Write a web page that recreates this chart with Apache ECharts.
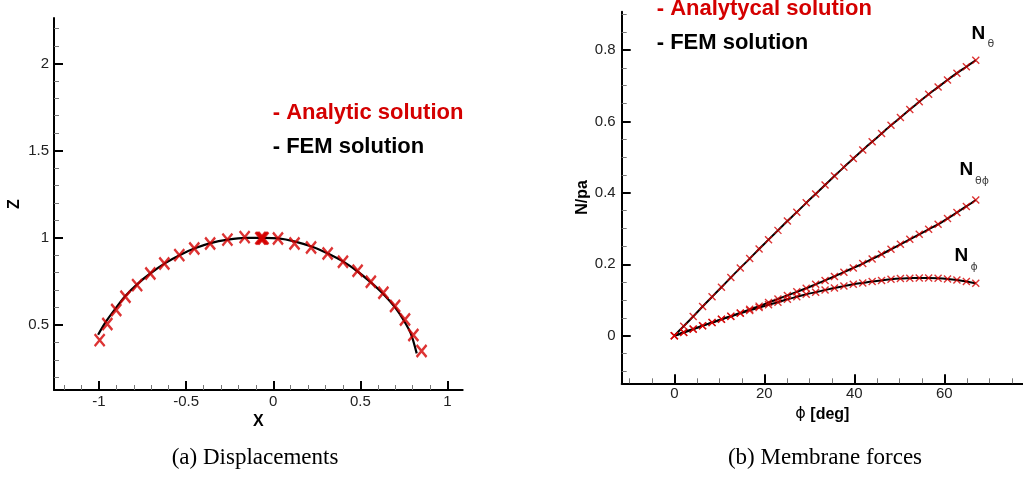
<!DOCTYPE html>
<html><head><meta charset="utf-8">
<script src="https://cdn.jsdelivr.net/npm/echarts@6/dist/echarts.min.js"></script>
<style>html,body{margin:0;padding:0;background:#fff}#c{width:1023px;height:478px}</style>
</head><body><div id="c"></div><script>
// ---- (a) Displacements ----
const dispX = [-0.996,-0.952,-0.901,-0.848,-0.781,-0.705,-0.625,-0.539,-0.453,-0.362,-0.263,-0.164,-0.074,-0.068,-0.062,-0.056,0.027,0.122,0.217,0.312,0.400,0.484,0.560,0.632,0.699,0.756,0.804,0.851];
const dispZ = [0.414,0.506,0.586,0.662,0.729,0.796,0.853,0.901,0.939,0.968,0.990,1.004,0.998,0.998,0.998,0.998,0.996,0.968,0.945,0.910,0.863,0.811,0.748,0.685,0.609,0.532,0.443,0.351];
const femX = [-1.005,-0.960,-0.905,-0.850,-0.780,-0.700,-0.620,-0.535,-0.450,-0.360,-0.260,-0.160,-0.060,0.030,0.120,0.220,0.310,0.400,0.480,0.560,0.630,0.700,0.750,0.790,0.823];
const femZ = [0.445,0.520,0.595,0.665,0.735,0.800,0.855,0.902,0.940,0.970,0.990,1.000,1.000,0.997,0.980,0.950,0.912,0.865,0.810,0.745,0.680,0.600,0.525,0.450,0.338];
const leftXMajor = [-1,-0.5,0,0.5,1];
const leftXMinor = [-1.2,-1.1,-0.9,-0.8,-0.7,-0.6,-0.4,-0.3,-0.2,-0.1,0.1,0.2,0.3,0.4,0.6,0.7,0.8,0.9];
const leftZMajor = [0.5,1,1.5,2];
const leftZMinor = [0.2,0.3,0.4,0.6,0.7,0.8,0.9,1.1,1.2,1.3,1.4,1.6,1.7,1.8,1.9,2.1,2.2];

// ---- (b) Membrane forces ----
const phi = [0,2.09,4.19,6.28,8.38,10.47,12.56,14.66,16.75,18.84,20.94,23.03,25.13,27.22,29.31,31.41,33.5,35.59,37.69,39.78,41.88,43.97,46.06,48.16,50.25,52.34,54.44,56.53,58.63,60.72,62.81,64.91,67.0];
const nTheta = [0,0.027,0.054,0.082,0.109,0.136,0.163,0.190,0.216,0.243,0.269,0.295,0.321,0.346,0.372,0.397,0.422,0.447,0.472,0.496,0.520,0.543,0.566,0.589,0.611,0.633,0.655,0.676,0.696,0.716,0.735,0.753,0.771];
const nThetaPhi = [0,0.009,0.018,0.028,0.037,0.046,0.055,0.064,0.074,0.083,0.093,0.103,0.113,0.123,0.133,0.144,0.155,0.166,0.178,0.190,0.202,0.215,0.228,0.242,0.256,0.270,0.284,0.298,0.312,0.328,0.345,0.362,0.380];
const nPhi = [0,0.010,0.019,0.028,0.037,0.046,0.054,0.063,0.071,0.079,0.087,0.094,0.102,0.109,0.116,0.122,0.128,0.134,0.139,0.144,0.148,0.152,0.155,0.158,0.160,0.161,0.162,0.162,0.161,0.159,0.156,0.152,0.147];
const rightXMajor = [0,20,40,60];
const rightXMinor = [-10,-5,5,10,15,25,30,35,45,50,55,65,70,75];
const rightYMajor = [0,0.2,0.4,0.6,0.8];
const rightYMinor = [-0.1,-0.05,0.05,0.1,0.15,0.25,0.3,0.35,0.45,0.5,0.55,0.65,0.7,0.75,0.85,0.9];

const RED = '#d40000';
const SANS = 'Liberation Sans, Arial, sans-serif';
const zip = (a, b) => a.map((v, i) => [v, b[i]]);
const XSYM = 'path://M0,0L10,10M10,0L0,10';

function majorAxis(grid, pos, min, max, ticks, name, nameGap, margin, extra) {
  return Object.assign({
    type: 'value', gridIndex: grid, position: pos, min: min, max: max,
    name: name, nameLocation: 'middle', nameGap: nameGap,
    nameTextStyle: {fontFamily: SANS, fontWeight: 'bold', fontSize: 16, color: '#000'},
    axisLine: {show: true, onZero: false, lineStyle: {color: '#000', width: 2}},
    axisTick: {show: true, inside: true, length: 9, customValues: ticks, lineStyle: {color: '#000', width: 2}},
    axisLabel: {show: true, customValues: ticks, margin: margin, fontFamily: SANS, fontSize: 15, color: '#222'},
    splitLine: {show: false}
  }, extra || {});
}
function minorAxis(grid, pos, min, max, ticks) {
  return {
    type: 'value', gridIndex: grid, position: pos, min: min, max: max,
    axisLine: {show: false, onZero: false},
    axisTick: {show: true, inside: true, length: 5, customValues: ticks, lineStyle: {color: '#777', width: 1}},
    axisLabel: {show: false}, splitLine: {show: false}
  };
}

const LX = [-1.258, 1.087], LZ = [0.128, 2.26], RX = [-11.7, 77.5], RY = [-0.133, 0.907];

function txt(x, y, text, font, fill, align) {
  return {type: 'text', x: x, y: y, style: {text: text, font: font, fill: fill, align: align || 'left', verticalAlign: 'middle'}};
}

const option = {
  animation: false,
  backgroundColor: '#fff',
  grid: [
    {left: 54, top: 18, width: 408.7, height: 372},
    {left: 621.7, top: 11.7, width: 401.3, height: 371.6}
  ],
  xAxis: [
    majorAxis(0, 'bottom', LX[0], LX[1], leftXMajor, 'X', 17, 4),
    minorAxis(0, 'bottom', LX[0], LX[1], leftXMinor),
    majorAxis(1, 'bottom', RX[0], RX[1], rightXMajor, '{p|ϕ} [deg]', 19, 3, {
      nameTextStyle: {fontFamily: SANS, fontWeight: 'bold', fontSize: 16, color: '#000',
        rich: {p: {fontFamily: 'DejaVu Sans', fontWeight: 'normal', fontSize: 16, color: '#000'}}}
    }),
    minorAxis(1, 'bottom', RX[0], RX[1], rightXMinor)
  ],
  yAxis: [
    majorAxis(0, 'left', LZ[0], LZ[1], leftZMajor, 'Z', 31, 5),
    minorAxis(0, 'left', LZ[0], LZ[1], leftZMinor),
    majorAxis(1, 'left', RY[0], RY[1], rightYMajor, 'N/pa', 29, 6),
    minorAxis(1, 'left', RY[0], RY[1], rightYMinor)
  ],
  series: [
    {type: 'line', xAxisIndex: 0, yAxisIndex: 0, data: zip(femX, femZ), smooth: 0.3, showSymbol: false,
      lineStyle: {color: '#000', width: 2.2}, silent: true, z: 2},
    {type: 'scatter', xAxisIndex: 0, yAxisIndex: 0, data: zip(dispX, dispZ), symbol: XSYM, symbolSize: [10, 12],
      itemStyle: {color: 'none', borderColor: RED, borderWidth: 2.5}, z: 3},
    {type: 'line', xAxisIndex: 2, yAxisIndex: 2, data: zip(phi, nTheta), smooth: 0.3, showSymbol: false,
      lineStyle: {color: '#000', width: 2}, z: 2},
    {type: 'line', xAxisIndex: 2, yAxisIndex: 2, data: zip(phi, nThetaPhi), smooth: 0.3, showSymbol: false,
      lineStyle: {color: '#000', width: 2}, z: 2},
    {type: 'line', xAxisIndex: 2, yAxisIndex: 2, data: zip(phi, nPhi), smooth: 0.3, showSymbol: false,
      lineStyle: {color: '#000', width: 2}, z: 2},
    {type: 'scatter', xAxisIndex: 2, yAxisIndex: 2, data: zip(phi, nTheta), symbol: XSYM, symbolSize: 7,
      itemStyle: {color: 'none', borderColor: RED, borderWidth: 1.4}, z: 3},
    {type: 'scatter', xAxisIndex: 2, yAxisIndex: 2, data: zip(phi, nThetaPhi), symbol: XSYM, symbolSize: 7,
      itemStyle: {color: 'none', borderColor: RED, borderWidth: 1.4}, z: 3},
    {type: 'scatter', xAxisIndex: 2, yAxisIndex: 2, data: zip(phi, nPhi), symbol: XSYM, symbolSize: 7,
      itemStyle: {color: 'none', borderColor: RED, borderWidth: 1.4}, z: 3}
  ],
  graphic: [
    txt(272.7, 113, '- Analytic solution', 'bold 22px ' + SANS, RED),
    txt(272.7, 147, '- FEM solution', 'bold 22px ' + SANS, '#000'),
    txt(656.7, 9, '- Analytycal solution', 'bold 22px ' + SANS, RED),
    txt(656.7, 43, '- FEM solution', 'bold 22px ' + SANS, '#000'),
    txt(971.5, 33.5, 'N', 'bold 19px ' + SANS, '#000'),
    txt(987.5, 44.5, 'θ', '11px DejaVu Sans', '#444'),
    txt(959.5, 170, 'N', 'bold 19px ' + SANS, '#000'),
    txt(975, 181.5, 'θϕ', '11px DejaVu Sans', '#444'),
    txt(954.5, 256, 'N', 'bold 19px ' + SANS, '#000'),
    txt(970.5, 267, 'ϕ', '11px DejaVu Sans', '#444'),
    txt(255, 458, '(a) Displacements', '23px Liberation Serif, serif', '#000', 'center'),
    txt(825, 458, '(b) Membrane forces', '23px Liberation Serif, serif', '#000', 'center')
  ]
};
const chart = echarts.init(document.getElementById('c'), null, {renderer: 'canvas'});
chart.setOption(option);
</script></body></html>
